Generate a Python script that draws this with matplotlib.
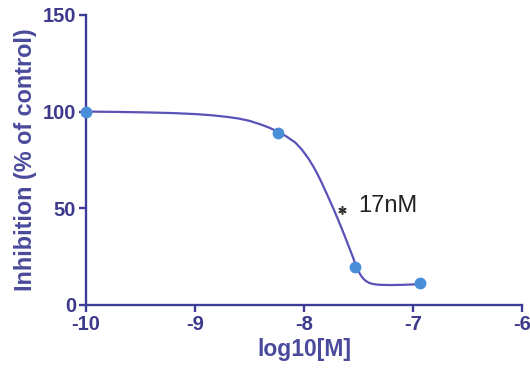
import matplotlib
matplotlib.use("Agg")
import matplotlib.pyplot as plt

# data points (log10 concentration, % of control)
point_x = [-10.0, -8.236, -7.532, -6.94]
point_y = [100.0, 89.0, 19.5, 11.2]

# fitted curve
curve_x = [-10.0, -9.7, -9.4, -9.2, -9.0, -8.85, -8.7, -8.6, -8.5, -8.4,
           -8.32, -8.236, -8.16, -8.08, -8.02, -7.96, -7.91, -7.87, -7.83,
           -7.8, -7.76, -7.73, -7.69, -7.66, -7.63, -7.6, -7.575, -7.55,
           -7.53, -7.51, -7.49, -7.47, -7.45, -7.43, -7.405, -7.38, -7.34,
           -7.3, -7.2, -7.1, -7.0, -6.94]
curve_y = [100.0, 99.8, 99.5, 99.2, 98.7, 98.1, 97.2, 96.4, 95.2, 93.4,
           91.7, 89.5, 87.1, 84.0, 80.4, 75.8, 71.2, 67.0, 62.3,
           58.6, 53.6, 49.8, 44.5, 40.4, 36.2, 31.8, 28.2, 24.6,
           21.4, 18.6, 16.4, 14.6, 13.3, 12.3, 11.5, 11.0, 10.6,
           10.4, 10.3, 10.4, 10.6, 10.8]

x_ticks = [-10, -9, -8, -7, -6]
y_ticks = [0, 50, 100, 150]

ic50_text = "17nM"
ic50_x = -7.651
ic50_y = 49.2

axis_col = "#3d3d98"
label_col = "#4a4a9c"
curve_col = "#5a52b8"
marker_col = "#4a8ed8"

plt.rcParams['font.family'] = ['Liberation Sans', 'DejaVu Sans']

fig = plt.figure(figsize=(5.30, 3.71), dpi=100)
ax = fig.add_axes([0.162, 0.178, 0.823, 0.782])

ax.plot(curve_x, curve_y, color=curve_col, lw=1.6, solid_capstyle='round',
        solid_joinstyle='round', zorder=2)
ax.plot(point_x, point_y, 'o', color=marker_col, ms=8.5, mec='none', zorder=3,
        clip_on=False)

# IC50 asterisk and text
ax.plot([ic50_x], [ic50_y], marker=(6, 2, 0), color='#333333', ms=6, mew=1.1)
ax.text(ic50_x + 0.146, ic50_y - 1.0, ic50_text, fontsize=17, color='#222222',
        ha='left', va='baseline')

ax.set_xlim(-10, -6)
ax.set_ylim(0, 150)
ax.set_xticks(x_ticks)
ax.set_yticks(y_ticks)
ax.set_xticklabels([str(t) for t in x_ticks])
ax.set_yticklabels([str(t) for t in y_ticks])

for s in ['top', 'right']:
    ax.spines[s].set_visible(False)
for s in ['left', 'bottom']:
    ax.spines[s].set_color(axis_col)
    ax.spines[s].set_linewidth(1.7)

ax.tick_params(axis='both', colors=axis_col, width=1.7, length=5,
               direction='out', labelsize=14.5, labelcolor='#3d3a8c', pad=2)
for lab in ax.get_xticklabels() + ax.get_yticklabels():
    lab.set_fontweight('bold')

ax.set_xlabel("log10[M]", fontsize=16.5, fontweight='bold', color=label_col,
              labelpad=3)
ax.set_ylabel("Inhibition (% of control)", fontsize=16.8, fontweight='bold',
              color=label_col, labelpad=4)

fig.savefig("out.png", dpi=100)
